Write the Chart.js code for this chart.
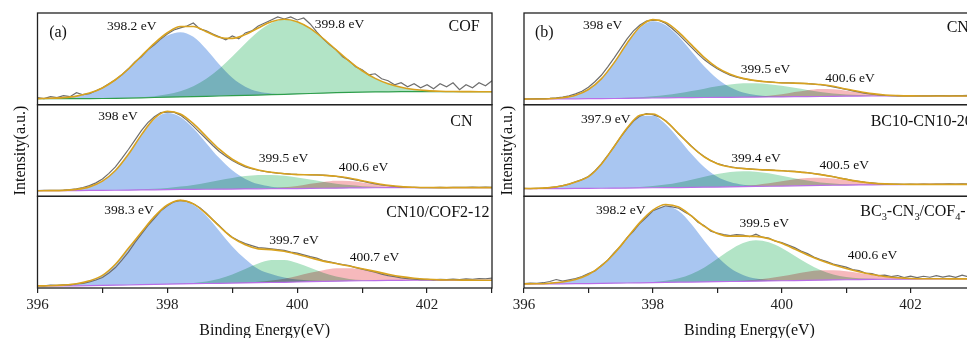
<!DOCTYPE html>
<html>
<head>
<meta charset="utf-8">
<script src="https://cdn.jsdelivr.net/npm/chart.js@4.4.1/dist/chart.umd.min.js"></script>
<style>
  html, body { margin: 0; padding: 0; background: #fff; overflow: hidden; }
  body { width: 967px; height: 338px; position: relative; }
  canvas { position: absolute; top: 0; }
  #panelA { left: 0; }
  #panelB { left: 487px; }
</style>
</head>
<body>
<canvas id="panelA" width="495" height="338"></canvas>
<canvas id="panelB" width="491" height="338"></canvas>
<script>
// binding energy grids (eV): fitted curves and measured points
const fitEnergy = [396.0, 396.2, 396.4, 396.6, 396.8, 397.0, 397.2, 397.4, 397.6, 397.8,
  398.0, 398.2, 398.4, 398.6, 398.8, 399.0, 399.2, 399.4, 399.6, 399.8,
  400.0, 400.2, 400.4, 400.6, 400.8, 401.0, 401.2, 401.4, 401.6, 401.8,
  402.0, 402.2, 402.4, 402.6, 402.8, 403.0];
const rawEnergy = [396.0, 396.1, 396.2, 396.3, 396.4, 396.5, 396.6, 396.7, 396.8, 396.9,
  397.0, 397.1, 397.2, 397.3, 397.4, 397.5, 397.6, 397.7, 397.8, 397.9,
  398.0, 398.1, 398.2, 398.3, 398.4, 398.5, 398.6, 398.7, 398.8, 398.9,
  399.0, 399.1, 399.2, 399.3, 399.4, 399.5, 399.6, 399.7, 399.8, 399.9,
  400.0, 400.1, 400.2, 400.3, 400.4, 400.5, 400.6, 400.7, 400.8, 400.9,
  401.0, 401.1, 401.2, 401.3, 401.4, 401.5, 401.6, 401.7, 401.8, 401.9,
  402.0, 402.1, 402.2, 402.3, 402.4, 402.5, 402.6, 402.7, 402.8, 402.9, 403.0];
const xTickLabels = [396, 398, 400, 402];

// COF
const cofRaw = [7, 6, 8, 7, 9, 8, 12, 10, 11, 14,
  17, 21, 25, 30, 36, 43, 48, 55, 60, 66,
  71, 75, 77, 79, 82, 76, 74, 71, 68, 65,
  69, 66, 72, 74, 79, 82, 85, 88, 86, 88,
  85, 87, 81, 73, 66, 60, 55, 48, 44, 38,
  35, 30, 31, 26, 24, 20, 22, 18, 21, 17,
  20, 16, 21, 18, 22, 15, 20, 17, 22, 19, 24];
const cofBaseline = [6, 6, 6, 6, 6.1, 6.2, 6.4, 6.6, 6.9, 7.2, 7.5, 7.8, 8.1, 8.4, 8.7, 9, 9.3, 9.6,
  10, 10.4, 10.8, 11.2, 11.6, 12, 12.3, 12.6, 12.8, 12.9, 13, 13, 13, 13, 13, 13, 13, 13];
const cofPeak398 = [0.1, 0.4, 1.1, 2.6, 5.5, 10.6, 18.5, 29.0, 41.3, 53.1, 61.8, 65, 60, 47.2, 31.6, 18.1,
  8.8, 3.6, 1.3, 0.4, 0.1, 0, 0, 0, 0, 0, 0, 0, 0, 0, 0, 0, 0, 0, 0, 0];
const cofPeak400 = [0, 0, 0, 0, 0, 0, 0.1, 0.2, 0.6, 1.3, 2.9, 5.7, 10.4, 17.6, 27.4, 39.4, 52.2, 63.8,
  72, 75, 72.4, 65.3, 54.8, 43, 31.4, 21.4, 13.6, 8.1, 4.5, 2.3, 1.1, 0.5, 0.2, 0.1, 0, 0];

// CN
const cnRaw = [5.8, 5.9, 6.0, 6.1, 6.3, 6.8, 7.6, 8.9, 10.8, 13.5,
  17.5, 23, 29.5, 38, 47, 56.5, 66, 74, 80, 84,
  84.5, 84.5, 81.5, 76.5, 70.5, 64, 57.5, 51, 45, 40.2,
  36, 32.5, 29.6, 27.7, 26.2, 24.9, 24.0, 23.3, 22.8, 22.3,
  22.0, 21.9, 21.6, 21.5, 21.2, 20.7, 20.0, 19.1, 17.8, 16.6,
  15.2, 13.8, 12.5, 11.4, 10.6, 9.9, 9.4, 9.1, 8.9, 8.8,
  8.7, 8.8, 8.9, 8.8, 9.0, 9.1, 8.9, 9.2, 9.0, 9.3, 9.1];
const cnBaseline = [5.6, 5.6, 5.7, 5.8, 5.9, 6.0, 6.1, 6.2, 6.4, 6.5, 6.7, 6.9, 7.0, 7.1, 7.2, 7.3, 7.4, 7.5,
  7.6, 7.7, 7.8, 8.0, 8.1, 8.2, 8.4, 8.5, 8.6, 8.7, 8.7, 8.7, 8.7, 8.7, 8.7, 8.7, 8.7, 8.7];
const cnPeak398 = [0, 0.1, 0.3, 1.2, 3.6, 9.2, 19.7, 35.8, 54.8, 70.7, 77, 72.8, 61.4, 46.3, 31.2, 18.8,
  10.1, 4.8, 2.1, 0.8, 0.3, 0.1, 0, 0, 0, 0, 0, 0, 0, 0, 0, 0, 0, 0, 0, 0];
const cnPeak399 = [0, 0, 0, 0, 0, 0, 0.1, 0.2, 0.5, 1.0, 1.7, 2.9, 4.5, 6.6, 8.9, 11.1, 12.9, 13.9,
  13.9, 12.9, 11.1, 8.9, 6.6, 4.5, 2.9, 1.7, 1.0, 0.5, 0.2, 0.1, 0, 0, 0, 0, 0, 0];
const cnPeak400 = [0, 0, 0, 0, 0, 0, 0, 0, 0, 0, 0, 0, 0, 0, 0, 0, 0.1, 0.2,
  0.5, 1.3, 2.6, 4.6, 6.4, 7.5, 7.1, 5.5, 3.6, 1.9, 0.8, 0.3, 0.1, 0, 0, 0, 0, 0];

// CN10/COF2-12
const cn10Raw = [2.5, 2.2, 2.8, 2.6, 3.2, 3.0, 4.0, 4.6, 6.2, 8.0,
  10.5, 15, 20.5, 28, 36, 45.5, 54, 62.5, 70, 77.5,
  82.5, 86.5, 88, 87, 84.5, 80.5, 75, 68.5, 62.5, 56,
  51, 47.5, 44.5, 42.5, 40.5, 40, 39.2, 38.5, 37.8, 36,
  35, 33.2, 31.5, 30, 27.5, 26.2, 24.8, 23.5, 22.5, 20.5,
  19, 17.5, 16, 14, 12.5, 11.5, 10.2, 9.5, 8.8, 8.3,
  8.7, 8.2, 8.6, 8.4, 9.0, 8.5, 9.2, 8.8, 9.5, 9.3, 10];
const cn10Baseline = [2.0, 2.0, 2.1, 2.2, 2.4, 2.6, 2.8, 3.0, 3.3, 3.6, 3.9, 4.1, 4.3, 4.5, 4.7, 4.9, 5.1, 5.3,
  5.5, 5.7, 6.0, 6.3, 6.6, 6.9, 7.1, 7.3, 7.5, 7.6, 7.7, 7.8, 7.8, 7.8, 7.8, 7.8, 7.8, 7.8];
const cn10Peak398 = [0.1, 0.3, 0.8, 2.0, 4.8, 10, 21, 36.8, 52.6, 68, 79.3, 83.5, 79.3, 68, 52.6, 36.8,
  24, 13.8, 8.5, 4.9, 2.5, 1.2, 0.5, 0.2, 0.1, 0, 0, 0, 0, 0, 0, 0, 0, 0, 0, 0];
const cn10Peak399 = [0, 0, 0, 0, 0, 0, 0, 0, 0, 0, 0.1, 0.3, 0.8, 2, 4.6, 8.6, 14, 19.2,
  22.5, 22.5, 19.2, 14, 8.6, 4.6, 2, 0.8, 0.3, 0.1, 0, 0, 0, 0, 0, 0, 0, 0];
const cn10Peak400 = [0, 0, 0, 0, 0, 0, 0, 0, 0, 0, 0, 0, 0, 0, 0.1, 0.2, 0.4, 1.0,
  2.0, 3.7, 6.1, 8.9, 11.3, 12.8, 12.8, 11.3, 8.9, 6.1, 3.7, 2.0, 1.0, 0.4, 0.2, 0.1, 0, 0];

// BC10-CN10
const bcRaw = [7.9, 7.8, 8.1, 8.3, 8.8, 9.5, 10.8, 12.3, 14.6, 16.8,
  19.9, 25.5, 32.5, 41, 50.2, 59.5, 68, 75.5, 80.5, 83,
  82, 79.8, 75.8, 69.5, 62.5, 56.5, 50.3, 44.5, 39.8, 35.8,
  33, 31, 29.7, 28.5, 28, 27.6, 27.2, 26.5, 26.5, 26,
  25.9, 25.2, 25, 24.3, 23.8, 22.7, 22, 20.8, 19.8, 18.2,
  17.2, 15.8, 15, 14, 13.5, 12.8, 12.6, 12.2, 12.3, 12,
  12.2, 12, 12.3, 12.1, 12.4, 12.2, 12.5, 12.3, 12.6, 12.4, 12.7];
const bcBaseline = [7.7, 7.7, 7.7, 7.8, 7.9, 8.0, 8.1, 8.2, 8.3, 8.5, 8.6, 8.7, 8.8, 9.0, 9.2, 9.3, 9.5, 9.7,
  9.9, 10.1, 10.3, 10.5, 10.7, 10.9, 11.1, 11.2, 11.4, 11.5, 11.7, 11.8, 11.9, 12, 12, 12, 12, 12];
const bcPeak397 = [0.1, 0.3, 1.0, 2.8, 6.5, 11.7, 24.1, 41.7, 59.9, 71.9, 72.3, 63.6, 49.1, 33.4, 19.9, 10.4,
  4.8, 1.9, 0.7, 0.2, 0.1, 0, 0, 0, 0, 0, 0, 0, 0, 0, 0, 0, 0, 0, 0, 0];
const bcPeak399 = [0, 0, 0, 0, 0, 0, 0.1, 0.2, 0.4, 0.9, 1.8, 3.1, 5.1, 7.6, 10.4, 13, 14.8, 15.5,
  14.8, 13, 10.4, 7.6, 5.1, 3.1, 1.8, 0.9, 0.4, 0.2, 0.1, 0, 0, 0, 0, 0, 0, 0];
const bcPeak400 = [0, 0, 0, 0, 0, 0, 0, 0, 0, 0, 0, 0, 0, 0, 0, 0.1, 0.3, 0.7,
  1.6, 3.0, 4.9, 6.7, 7.8, 7.8, 6.7, 4.9, 3.0, 1.6, 0.7, 0.3, 0.1, 0, 0, 0, 0, 0];

// BC3-CN3/COF4
const bc3Raw = [4.5, 5, 4.6, 5.3, 6.5, 8.5, 7, 8.2, 9.5, 11.5,
  14.5, 17, 22.5, 28, 35.5, 42, 50.5, 57, 65, 71,
  77.5, 80, 82.5, 81.5, 80, 76, 72.5, 66, 62.5, 57,
  55, 53.5, 52.5, 53.5, 53, 51.5, 54, 51, 50, 47,
  45.5, 43, 40.5, 37, 34.5, 31, 28.5, 26.5, 24, 22.5,
  21, 18.5, 17.5, 15, 14.5, 12.5, 13, 11.5, 12.5, 10.5,
  12, 10.5, 11.8, 10.8, 12.5, 11, 12.2, 10.6, 12.8, 11.2, 12.4];
const bc3Baseline = [4.0, 4.0, 4.1, 4.2, 4.3, 4.4, 4.6, 4.8, 5.0, 5.2, 5.4, 5.6, 5.8, 5.9, 6.1, 6.3, 6.5, 6.7,
  6.9, 7.1, 7.3, 7.5, 7.7, 7.9, 8.1, 8.3, 8.5, 8.7, 8.8, 8.9, 9.0, 9.1, 9.2, 9.2, 9.2, 9.2];
const bc3Peak398 = [0.1, 0.2, 0.7, 1.8, 4.3, 9.2, 17.6, 29.9, 45.1, 60.5, 72.1, 76.5, 71.4, 58.1, 41.1, 25.4,
  13.6, 6.4, 2.6, 0.9, 0.3, 0.1, 0, 0, 0, 0, 0, 0, 0, 0, 0, 0, 0, 0, 0, 0];
const bc3Peak399 = [0, 0, 0, 0, 0, 0, 0, 0, 0.1, 0.2, 0.7, 1.7, 4, 8.2, 14.6, 23, 31.7, 38.4,
  41, 38.8, 32.8, 24.9, 16.9, 10.2, 5.5, 2.7, 1.2, 0.5, 0.2, 0.1, 0, 0, 0, 0, 0, 0];
const bc3Peak400 = [0, 0, 0, 0, 0, 0, 0, 0, 0, 0, 0, 0, 0, 0, 0, 0.1, 0.2, 0.6,
  1.3, 2.6, 4.4, 6.6, 8.6, 9.8, 9.8, 8.6, 6.6, 4.4, 2.6, 1.3, 0.6, 0.2, 0.1, 0, 0, 0];

// styles
const serif = '"Liberation Serif", "Times New Roman", serif';
const peakColors = ['#a9c6f1', '#b2e4c6', '#f6b9bc'];
const fitColor = '#d8a21f';
const rawColor = '#6e6e6e';
const purple = '#b96ee8';

Chart.defaults.font.family = serif;

const panels = [
  {
    canvas: 'panelA', axisWidth: 37.5,
    rows: [
      { raw: cofRaw, baseline: cofBaseline, peaks: [cofPeak398, cofPeak400], peakColors: [0, 1], baseColor: '#2f9e4c',
        notes: [
          { text: '(a)', x: 396.18, y: 72, align: 'left', size: 16 },
          { text: '398.2 eV', x: 397.45, y: 78 },
          { text: '399.8 eV', x: 400.65, y: 81 },
          { text: 'COF', x: 402.81, y: 78, align: 'right', size: 16 }
        ] },
      { raw: cnRaw, baseline: cnBaseline, peaks: [cnPeak398, cnPeak399, cnPeak400], peakColors: [0, 1, 2], baseColor: purple,
        notes: [
          { text: '398 eV', x: 397.24, y: 80 },
          { text: '399.5 eV', x: 399.79, y: 38 },
          { text: '400.6 eV', x: 401.02, y: 29 },
          { text: 'CN', x: 402.7, y: 75, align: 'right', size: 16 }
        ] },
      { raw: cn10Raw, baseline: cn10Baseline, peaks: [cn10Peak398, cn10Peak399, cn10Peak400], peakColors: [0, 1, 2], baseColor: purple,
        notes: [
          { text: '398.3 eV', x: 397.41, y: 78 },
          { text: '399.7 eV', x: 399.95, y: 48 },
          { text: '400.7 eV', x: 401.19, y: 31 },
          { text: 'CN10/COF2-12', x: 402.96, y: 75, align: 'right', size: 16 }
        ] }
    ]
  },
  {
    canvas: 'panelB', axisWidth: 37,
    rows: [
      { raw: cnRaw, baseline: cnBaseline, peaks: [cnPeak398, cnPeak399, cnPeak400], peakColors: [0, 1, 2], baseColor: purple,
        notes: [
          { text: '(b)', x: 396.17, y: 72, align: 'left', size: 16 },
          { text: '398 eV', x: 397.22, y: 80 },
          { text: '399.5 eV', x: 399.75, y: 35 },
          { text: '400.6 eV', x: 401.06, y: 26 },
          { text: 'CN', x: 402.56, y: 77, align: 'left', size: 16 }
        ] },
      { raw: bcRaw, baseline: bcBaseline, peaks: [bcPeak397, bcPeak399, bcPeak400], peakColors: [0, 1, 2], baseColor: purple,
        notes: [
          { text: '397.9 eV', x: 397.27, y: 77 },
          { text: '399.4 eV', x: 399.6, y: 38 },
          { text: '400.5 eV', x: 400.97, y: 31 },
          { text: 'BC10-CN10-20', x: 401.38, y: 75, align: 'left', size: 16 }
        ] },
      { raw: bc3Raw, baseline: bc3Baseline, peaks: [bc3Peak398, bc3Peak399, bc3Peak400], peakColors: [0, 1, 2], baseColor: purple,
        notes: [
          { text: '398.2 eV', x: 397.5, y: 78 },
          { text: '399.5 eV', x: 399.73, y: 65 },
          { text: '400.6 eV', x: 401.41, y: 33 },
          { text: 'BC_3-CN_3/COF_4-12', x: 401.22, y: 76, align: 'left', size: 16 }
        ] }
    ]
  }
];

const rowIds = ['rowTop', 'rowMid', 'rowBottom'];

function addRow(datasets, yId, row) {
  const start = datasets.length;
  const fit = fitEnergy.map((e, i) => ({ x: e, y: row.peaks.reduce((s, p) => s + p[i], row.baseline[i]) }));
  datasets.push({ data: fit, yAxisID: yId, borderColor: fitColor, borderWidth: 1.6, pointRadius: 0,
    cubicInterpolationMode: 'monotone', fill: false });
  datasets.push({ data: rawEnergy.map((e, i) => ({ x: e, y: row.raw[i] })), yAxisID: yId, borderColor: rawColor,
    borderWidth: 1.2, pointRadius: 0, tension: 0, fill: false });
  datasets.push({ data: fitEnergy.map((e, i) => ({ x: e, y: row.baseline[i] })), yAxisID: yId, borderColor: row.baseColor,
    borderWidth: 1.2, pointRadius: 0, tension: 0, fill: false });
  row.peaks.forEach((p, k) => {
    datasets.push({ data: fitEnergy.map((e, i) => ({ x: e, y: row.baseline[i] + p[i] })), yAxisID: yId,
      borderColor: 'transparent', borderWidth: 0, pointRadius: 0, cubicInterpolationMode: 'monotone',
      fill: start + 2, backgroundColor: peakColors[row.peakColors[k]] });
  });
}

// overlapping component areas darken each other like in the original (multiply)
const multiplyFills = {
  id: 'multiplyFills',
  beforeDatasetsDraw(chart) { chart.ctx.globalCompositeOperation = 'multiply'; },
  beforeDatasetDraw(chart) { chart.ctx.globalCompositeOperation = 'source-over'; },
  afterDatasetDraw(chart) { chart.ctx.globalCompositeOperation = 'multiply'; },
  afterDatasetsDraw(chart) { chart.ctx.globalCompositeOperation = 'source-over'; }
};

function drawRich(ctx, text, x, y, size, align) {
  const parts = [];
  for (let i = 0; i < text.length; i++) {
    if (text[i] === '_' && i + 1 < text.length) { parts.push({ t: text[i + 1], sub: true }); i++; }
    else if (parts.length && !parts[parts.length - 1].sub) parts[parts.length - 1].t += text[i];
    else parts.push({ t: text[i], sub: false });
  }
  const fontFor = p => (p.sub ? size * 0.65 : size) + 'px ' + serif;
  let total = 0;
  parts.forEach(p => { ctx.font = fontFor(p); p.w = ctx.measureText(p.t).width; total += p.w; });
  let cx = align === 'right' ? x - total : align === 'center' ? x - total / 2 : x;
  ctx.textAlign = 'left';
  ctx.textBaseline = 'middle';
  parts.forEach(p => {
    ctx.font = fontFor(p);
    ctx.fillText(p.t, cx, p.sub ? y + size * 0.3 : y);
    cx += p.w;
  });
}

function buildPanel(panel) {
  const datasets = [];
  const scales = {
    x: {
      type: 'linear', min: 396, max: 403,
      ticks: { stepSize: 1, autoSkip: false, maxRotation: 0, padding: 3, color: '#222', font: { size: 15 },
        callback: v => xTickLabels.includes(v) ? String(v) : '' },
      grid: { display: true, drawOnChartArea: false, drawTicks: true, tickLength: 5, color: '#222', lineWidth: 1.2 },
      border: { display: false },
      title: { display: true, text: 'Binding Energy(eV)', color: '#111', font: { size: 16 }, padding: { top: 0, bottom: -2.5 } },
      afterFit: s => { s.height = 50; }
    }
  };
  panel.rows.forEach((row, r) => {
    const yId = rowIds[r];
    scales[yId] = {
      type: 'linear', position: 'left', stack: 'rows', stackWeight: 1, weight: 3 - r,
      min: 0, max: 92,
      ticks: { display: false }, grid: { display: false }, border: { display: false },
      title: r === 1
        ? { display: true, text: 'Intensity(a.u.)', color: '#111', font: { size: 16 }, padding: { top: 11, bottom: 0 } }
        : { display: false },
      afterFit: s => { s.width = panel.axisWidth; }
    };
    addRow(datasets, yId, row);
  });

  const frames = {
    id: 'frames',
    afterDatasetsDraw(chart) {
      const ctx = chart.ctx, area = chart.chartArea;
      ctx.save();
      ctx.globalCompositeOperation = 'source-over';
      ctx.strokeStyle = '#222';
      ctx.lineWidth = 1.3;
      panel.rows.forEach((row, r) => {
        const s = chart.scales[rowIds[r]];
        ctx.strokeRect(area.left, s.top, area.right - area.left, s.bottom - s.top);
      });
      ctx.fillStyle = '#111';
      panel.rows.forEach((row, r) => {
        const ys = chart.scales[rowIds[r]];
        row.notes.forEach(n => {
          drawRich(ctx, n.text, chart.scales.x.getPixelForValue(n.x), ys.getPixelForValue(n.y), n.size || 13.5, n.align || 'center');
        });
      });
      ctx.restore();
    }
  };

  new Chart(document.getElementById(panel.canvas), {
    type: 'line',
    data: { datasets },
    options: {
      responsive: false, animation: false, devicePixelRatio: 1,
      layout: { padding: { left: 0, top: 13, right: 2.5, bottom: 0 } },
      plugins: { legend: { display: false }, tooltip: { enabled: false } },
      scales
    },
    plugins: [multiplyFills, frames]
  });
}

panels.forEach(buildPanel);
</script>
</body>
</html>
